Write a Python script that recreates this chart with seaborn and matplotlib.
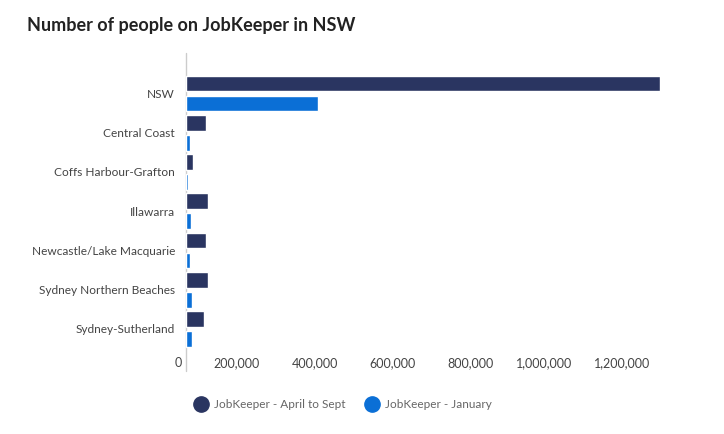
import matplotlib
matplotlib.use("Agg")
import matplotlib.pyplot as plt
import matplotlib.transforms as mtransforms
from matplotlib.lines import Line2D
from matplotlib.ticker import FuncFormatter
import pandas as pd
import seaborn as sns

# ── Data ──────────────────────────────────────────────────────────────────────
regions = ["NSW", "Central Coast", "Coffs Harbour-Grafton", "Illawarra",
           "Newcastle/Lake Macquarie", "Sydney Northern Beaches", "Sydney-Sutherland"]
april_sept = [1215000, 51000, 18000, 56000, 51000, 56000, 47000]
january = [338000, 11000, 5000, 13500, 11000, 16000, 16000]
series = ["JobKeeper - April to Sept", "JobKeeper - January"]
colors = ["#2a3561", "#0b6fd6"]
xticks = [0, 200000, 400000, 600000, 800000, 1000000, 1200000]

df = pd.DataFrame({
    "region": regions * 2,
    "people": april_sept + january,
    "series": [series[0]] * len(regions) + [series[1]] * len(regions),
})

# ── Style ─────────────────────────────────────────────────────────────────────
sns.set_style("white")
plt.rcParams["font.family"] = ["Lato", "DejaVu Sans"]

fig = plt.figure(figsize=(7.24, 4.34), dpi=100)
ax = fig.add_axes([186 / 724, 1 - 349 / 434, (660 - 186) / 724, (349 - 53) / 434])

sns.barplot(data=df, x="people", y="region", hue="series", orient="h",
            palette=colors, width=1.02, gap=0.21, ax=ax, legend=False,
            errorbar=None, saturation=1)

ax.set_xlim(0, 1216000)
ax.set_ylim(6.51, -1.03)
ax.set_xlabel("")
ax.set_ylabel("")

for s in ["top", "right", "bottom", "left"]:
    ax.spines[s].set_visible(False)
ax.axvline(0, ymin=-0.075, ymax=1, color="#cccccc", lw=1, clip_on=False, zorder=0)

ax.set_xticks(xticks)
ax.xaxis.set_major_formatter(FuncFormatter(lambda v, p: f"{int(v):,}"))
ax.tick_params(axis="x", length=0, pad=6, labelsize=9, labelcolor="#444444")
ax.tick_params(axis="y", length=0, pad=8, labelsize=8.6, labelcolor="#444444")
shift = mtransforms.ScaledTranslation(-4 / 100, 0, fig.dpi_scale_trans)
for lbl in ax.get_xticklabels():
    lbl.set_horizontalalignment("right")
    lbl.set_transform(lbl.get_transform() + shift)

fig.text(27 / 724, 1 - 25 / 434, "Number of people on JobKeeper in NSW",
         fontsize=13, fontweight="bold", color="#222222", va="center", ha="left")

handles = [Line2D([0], [0], marker="o", linestyle="", markersize=11,
                  markerfacecolor=c, markeredgecolor=c) for c in colors]
leg = fig.legend(handles, series, loc="center", bbox_to_anchor=(343 / 724, 1 - 405 / 434),
                 ncol=2, frameon=False, fontsize=8.5, handletextpad=0.5,
                 columnspacing=1.6, handlelength=1.2)
for t in leg.get_texts():
    t.set_color("#666666")

fig.savefig("out.png", dpi=100)
